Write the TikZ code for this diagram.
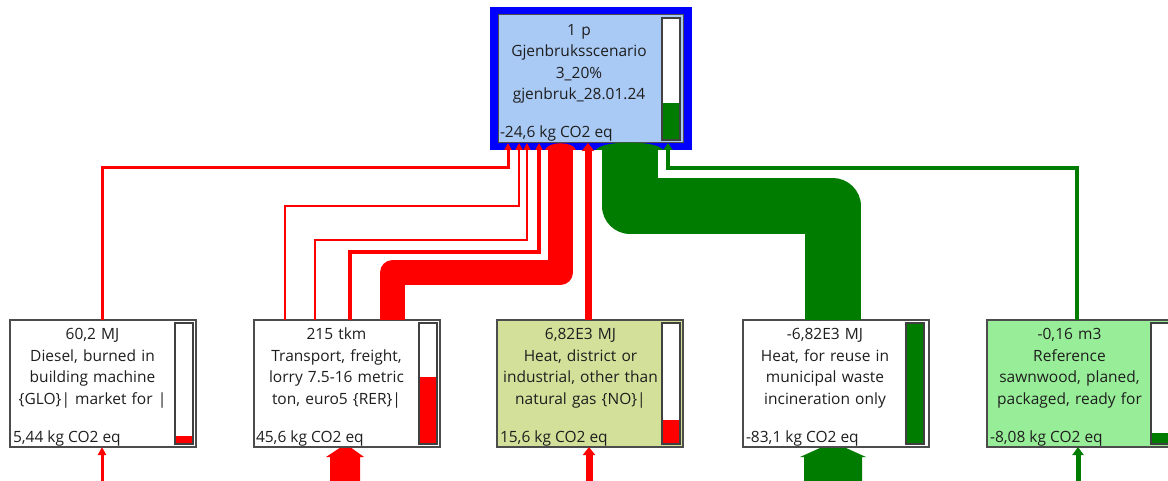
\documentclass[tikz,border=0pt]{standalone}
\usepackage{fontspec}
\setmainfont{Open Sans}
\usetikzlibrary{arrows.meta}
\definecolor{flowred}{RGB}{255,0,0}
\definecolor{flowgreen}{RGB}{0,125,0}
\definecolor{topfill}{RGB}{170,202,246}
\definecolor{frameblue}{RGB}{0,0,255}
\definecolor{heatfill}{RGB}{210,224,154}
\definecolor{woodfill}{RGB}{152,238,152}
\definecolor{txt}{RGB}{30,30,30}
\begin{document}
\begin{tikzpicture}[x=1pt,y=-1pt,
  every node/.style={inner sep=0pt, outer sep=0pt},
  procbox/.style={draw=black!70, line width=1.3pt, anchor=north west, minimum width=186pt, minimum height=127pt},
  barbox/.style={draw=black!75, line width=1.2pt, fill=white, anchor=north west, minimum width=18pt, minimum height=121pt},
  barline/.style={draw=black!75, line width=1.2pt},
  lbl/.style={text=txt, font=\fontsize{15.5}{21.5}\selectfont, text width=178pt, align=center, anchor=base},
  foot/.style={text=txt, font=\fontsize{15.5}{21.5}\selectfont, anchor=base west},
  redflow/.style={draw=flowred, line cap=butt},
  greenflow/.style={draw=flowgreen, line cap=butt},
  smallhead/.style={-{Triangle[width=7pt,length=7pt]}}
]
\useasboundingbox (0,0) rectangle (1168,481);
\clip (0,0) rectangle (1168,481);
\fill[white] (0,0) rectangle (1168,481);

% ---------- top node ----------
\node[fill=frameblue, anchor=north west, minimum width=202pt, minimum height=143pt] (topframe) at (490,7) {};
\node[fill=topfill, draw=black!70, line width=1pt, anchor=north west, minimum width=185pt, minimum height=128pt] (top) at (498,15) {};
\node[barbox, minimum height=122pt] (topbar) at (662,18) {};
\fill[flowgreen] (662,103) rectangle (680,140);
\draw[barline] (topbar.north west) rectangle (topbar.south east);
\node[lbl] (toplbl) at (579,35.5) {1 p\\Gjenbruksscenario\\3\_20\%\\gjenbruk\_28.01.24};
\node[foot] (topfoot) at (500,137.5) {-24,6 kg CO2 eq};

% ---------- bottom nodes ----------
% n1 Diesel
\node[procbox, fill=white] (n1) at (10,320) {};
\node[barbox] (n1bar) at (175,323) {};
\fill[flowred] (175,436) rectangle (193,444);
\draw[barline] (n1bar.north west) rectangle (n1bar.south east);
\node[lbl] (n1lbl) at (92.5,339.5) {60,2 MJ\\Diesel, burned in\\building machine\\\{GLO\}| market for |};
\node[foot] (n1foot) at (13,442.5) {5,44 kg CO2 eq};

% n2 Transport
\node[procbox, fill=white] (n2) at (254,320) {};
\node[barbox] (n2bar) at (419,323) {};
\fill[flowred] (419,377) rectangle (437,444);
\draw[barline] (n2bar.north west) rectangle (n2bar.south east);
\node[lbl] (n2lbl) at (336.5,339.5) {215 tkm\\Transport, freight,\\lorry 7.5-16 metric\\ton, euro5 \{RER\}|};
\node[foot] (n2foot) at (256,442.5) {45,6 kg CO2 eq};

% n3 Heat district
\node[procbox, fill=heatfill] (n3) at (497,320) {};
\node[barbox] (n3bar) at (662,323) {};
\fill[flowred] (662,420) rectangle (680,444);
\draw[barline] (n3bar.north west) rectangle (n3bar.south east);
\node[lbl] (n3lbl) at (580.5,339.5) {6,82E3 MJ\\Heat, district or\\industrial, other than\\natural gas \{NO\}|};
\node[foot] (n3foot) at (500,442.5) {15,6 kg CO2 eq};

% n4 Heat reuse
\node[procbox, fill=white] (n4) at (743,320) {};
\node[barbox] (n4bar) at (906,323) {};
\fill[flowgreen] (906,323) rectangle (924,444);
\draw[barline] (n4bar.north west) rectangle (n4bar.south east);
\node[lbl] (n4lbl) at (825,339.5) {-6,82E3 MJ\\Heat, for reuse in\\municipal waste\\incineration only};
\node[foot] (n4foot) at (746,442.5) {-83,1 kg CO2 eq};

% n5 Reference sawnwood
\node[procbox, fill=woodfill] (n5) at (987,320) {};
\node[barbox] (n5bar) at (1151,323) {};
\fill[flowgreen] (1151,433) rectangle (1169,444);
\draw[barline] (n5bar.north west) rectangle (n5bar.south east);
\node[lbl] (n5lbl) at (1069.5,339.5) {-0,16 m3\\Reference\\sawnwood, planed,\\packaged, ready for};
\node[foot] (n5foot) at (990,442.5) {-8,08 kg CO2 eq};

% ---------- flows into top node ----------
\draw[redflow, line width=3pt, smallhead] (n1.north -| 102,0) |- (508,168) -- (top.south -| 508,0);
\draw[redflow, line width=1.6pt, smallhead] (n2.north -| 285,0) |- (519,206) -- (top.south -| 519,0);
\draw[redflow, line width=1.6pt, smallhead] (n2.north -| 315,0) |- (527,240) -- (top.south -| 527,0);
\draw[redflow, line width=4pt, smallhead] (n2.north -| 349.5,0) |- (539,252) -- (top.south -| 539,0);
\draw[redflow, line width=25pt, line join=round] (n2.north -| 392.5,0) |- (560.5,272.5) -- (topframe.south -| 560.5,0);
\fill[flowred] (545,150) .. controls (548,141) and (573,141) .. (576,150) -- cycle;
\draw[redflow, line width=7pt, -{Triangle[width=12pt,length=8pt]}] (n3.north -| 588,0) -- (top.south -| 588,0);
\draw[greenflow, line width=56pt, line join=round] (n4.north -| 832.5,0) |- (630,206) -- (topframe.south -| 630,0);
\fill[flowgreen] (596,150) .. controls (602,140) and (657,140) .. (663,150) -- cycle;
\draw[greenflow, line width=4pt, -{Triangle[width=9pt,length=7pt]}] (n5.north -| 1077,0) |- (668,168) -- (top.south -| 668,0);

% ---------- flows into bottom nodes ----------
\coordinate (in1) at (102,481);
\coordinate (in2) at (345,481);
\coordinate (in3) at (589,481);
\coordinate (in4) at (833,481);
\coordinate (in5) at (1078,481);
\draw[redflow, line width=3pt, -{Triangle[width=8pt,length=8pt]}] (in1) -- (n1.south -| in1);
\fill[flowred] (330,481) -- (330,457) -- (326,457) -- (339.5,448) -- (351.5,448) -- (364,457) -- (360,457) -- (360,481) -- cycle;
\draw[redflow, line width=7pt, -{Triangle[width=12pt,length=8pt]}] (in3) -- (n3.south -| in3);
\fill[flowgreen] (804,481) -- (804,457) -- (800,457) -- (820,448) -- (846,448) -- (866,457) -- (862,457) -- (862,481) -- cycle;
\draw[greenflow, line width=5pt, -{Triangle[width=11pt,length=8pt]}] (in5) -- (n5.south -| in5);
\end{tikzpicture}
\end{document}
